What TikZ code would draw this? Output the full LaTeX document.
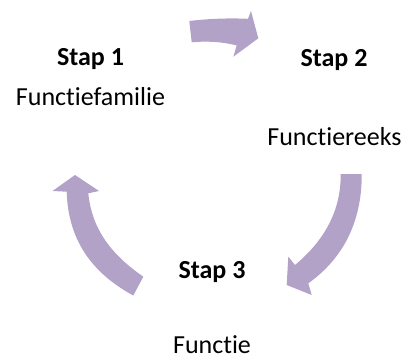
\documentclass[tikz,border=0pt]{standalone}
\usepackage{fontspec}
\setmainfont[Ligatures={CommonOff}]{Carlito}
\definecolor{cyclepurple}{HTML}{B3A2C7}
\begin{document}
\begin{tikzpicture}[x=1pt, y=-1pt,
	every node/.style={font=\fontsize{26}{31}\selectfont, anchor=base, inner sep=0pt},
	stapnode/.style={font=\fontsize{26}{31}\selectfont\bfseries},
	cyclearrow/.style={fill=cyclepurple, draw=none}]
			\useasboundingbox (0,0) rectangle (403,358);

			% Draw the step labels
			\node[stapnode] (stap1) at (90.5, 66) {Stap 1};
			\node (familie) at (90.5, 106) {Functiefamilie};

			\node[stapnode] (stap2) at (334, 67) {Stap 2};
			\node (reeks) at (334.5, 145.5) {Functiereeks};

			\node[stapnode] (stap3) at (212, 278) {Stap 3};
			\node (functie) at (212, 353.5) {Functie};

			% Draw the arrow from step 1 to step 2
			\fill[cyclearrow] (189.3,21) .. controls (210,18.5) and (230,18) .. (248,18.8)
				-- (251,11) -- (258.3,38.3) -- (233.3,56.7) -- (236.7,45.5)
				.. controls (222,41.5) and (205,41) .. (191.7,42.3) -- cycle;

			% Draw the arrow from step 2 to step 3
			\fill[cyclearrow] (340.7,174) -- (361.7,174)
				.. controls (362,215) and (348,255) .. (308.3,283.3)
				-- (311.7,295) -- (286.7,285) -- (288.3,256.7) -- (295,265)
				.. controls (325,240) and (341,210) .. (340.7,174) -- cycle;

			% Draw the arrow from step 3 back to step 1
			\fill[cyclearrow] (143.3,276.7) -- (133.3,295.5)
				.. controls (90,272) and (68,238) .. (66.7,191.7)
				-- (52.5,191) -- (75,175) -- (99,191) -- (88.3,193.3)
				.. controls (92,230) and (112,255) .. (143.3,276.7) -- cycle;

\end{tikzpicture}
\end{document}
